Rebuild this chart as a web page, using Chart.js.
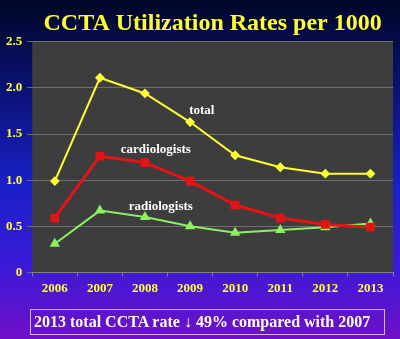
<!DOCTYPE html>
<html>
<head>
<meta charset="utf-8">
<script src="https://cdn.jsdelivr.net/npm/chart.js@4/dist/chart.umd.min.js"></script>
<style>
  html, body { margin:0; padding:0; }
  body {
    width:400px; height:339px; overflow:hidden; position:relative;
    background: linear-gradient(to bottom, #000626 0%, #0a1270 25%, #1a20c8 55%, #3a1ad8 78%, #7010c8 100%);
  }
  #c { position:absolute; left:0; top:0; }
  #note {
    position:absolute; left:30px; top:309px; width:355px; height:26px;
    border:1px solid #c8b8f0; box-sizing:border-box; padding-left:3px;
    color:#fff; font:bold 16px "Liberation Serif", "Times New Roman", serif;
    line-height:24px; text-align:left; white-space:nowrap;
  }
</style>
</head>
<body>
<canvas id="c" width="400" height="339"></canvas>
<div id="note">2013 total CCTA rate ↓ 49% compared with 2007</div>
<script>
const years = ['2006','2007','2008','2009','2010','2011','2012','2013'];
const total = [0.99, 2.11, 1.94, 1.63, 1.27, 1.14, 1.07, 1.07];
const cardiologists = [0.59, 1.26, 1.19, 0.99, 0.73, 0.59, 0.52, 0.49];
const radiologists = [0.31, 0.67, 0.60, 0.50, 0.43, 0.46, 0.49, 0.53];

const serif = '"Liberation Serif", "Times New Roman", serif';

// gray plot background
const plotBg = {
  id: 'plotBg',
  beforeDraw(chart) {
    const {ctx, chartArea: a} = chart;
    ctx.save();
    ctx.fillStyle = '#3d3d3d';
    ctx.fillRect(a.left, a.top, a.right - a.left, a.bottom - a.top);
    ctx.restore();
  }
};

// series name labels next to the lines
const seriesLabels = {
  id: 'seriesLabels',
  afterDatasetsDraw(chart) {
    const {ctx, scales: {x, y}} = chart;
    const items = [['total', 3.26, 1.75], ['cardiologists', 2.24, 1.33], ['radiologists', 2.35, 0.71]];
    ctx.save();
    ctx.fillStyle = '#ffffff';
    ctx.font = 'bold 13px ' + serif;
    ctx.textAlign = 'center';
    ctx.textBaseline = 'middle';
    items.forEach(([t, xi, v]) => ctx.fillText(t, x.getPixelForValue(xi), y.getPixelForValue(v)));
    ctx.restore();
  }
};

new Chart(document.getElementById('c'), {
  type: 'line',
  data: {
    labels: years,
    datasets: [
      { label: 'total', data: total, borderColor: '#ffff33', backgroundColor: '#ffff33',
        borderWidth: 2, pointStyle: 'rectRot', pointRadius: 3.5 },
      { label: 'cardiologists', data: cardiologists, borderColor: '#e41414', backgroundColor: '#e41414',
        borderWidth: 3, pointStyle: 'rect', pointRadius: 4 },
      { label: 'radiologists', data: radiologists, borderColor: '#8cf060', backgroundColor: '#8cf060',
        borderWidth: 2, pointStyle: 'triangle', pointRadius: 4 }
    ]
  },
  options: {
    responsive: false,
    animation: false,
    layout: { padding: { top: 9, right: 0, bottom: 39, left: 1 } },
    plugins: {
      legend: { display: false },
      tooltip: { enabled: false },
      title: {
        display: true, fullSize: false,
        text: 'CCTA Utilization Rates per 1000',
        color: '#ffff33',
        font: { family: serif, size: 24, weight: 'bold' },
        padding: { top: 0, bottom: 4 }
      }
    },
    scales: {
      x: {
        offset: true,
        grid: { display: true, drawOnChartArea: false, color: '#8080a0', tickLength: 4, offset: true },
        border: { color: '#808080' },
        ticks: { color: '#ffff33', font: { family: serif, size: 13, weight: 'bold' }, padding: 4 }
      },
      y: {
        min: 0, max: 2.5,
        grid: { color: '#6e6e6e', tickLength: 5 },
        border: { display: false },
        ticks: { stepSize: 0.5, color: '#ffff33', font: { family: serif, size: 13, weight: 'bold' }, padding: 5 }
      }
    }
  },
  plugins: [plotBg, seriesLabels]
});
</script>
</body>
</html>
